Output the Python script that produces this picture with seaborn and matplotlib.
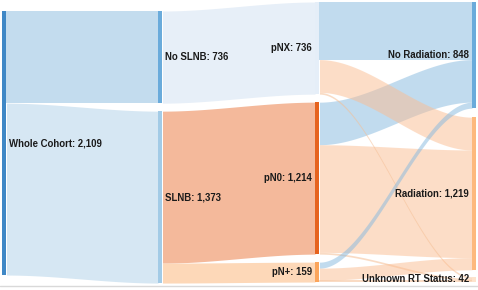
import numpy as np
import matplotlib
matplotlib.use("Agg")
import matplotlib.pyplot as plt
import seaborn as sns

# ---------------- data ----------------
stage_nodes = [
    ["Whole Cohort"],
    ["No SLNB", "SLNB"],
    ["pNX", "pN0", "pN+"],
    ["No Radiation", "Radiation", "Unknown RT Status"],
]
node_values = {
    "Whole Cohort": 2109,
    "No SLNB": 736, "SLNB": 1373,
    "pNX": 736, "pN0": 1214, "pN+": 159,
    "No Radiation": 848, "Radiation": 1219, "Unknown RT Status": 42,
}
flow_source = ["Whole Cohort", "Whole Cohort", "No SLNB", "SLNB", "SLNB",
               "pN0", "pN0", "pN0", "pNX", "pNX", "pNX", "pN+", "pN+", "pN+"]
flow_target = ["No SLNB", "SLNB", "pNX", "pN0", "pN+",
               "No Radiation", "Radiation", "Unknown RT Status",
               "No Radiation", "Radiation", "Unknown RT Status",
               "No Radiation", "Radiation", "Unknown RT Status"]
flow_value = [736, 1373, 736, 1214, 159,
              340, 860, 14,
              460, 262, 14,
              48, 97, 14]

# ---------------- style ----------------
node_color = {
    "Whole Cohort": "#3f88c6",
    "No SLNB": "#6aabdb", "SLNB": "#a3cbe6",
    "pNX": "#e5eef8", "pN0": "#e6631e", "pN+": "#fba55c",
    "No Radiation": "#6aabdb", "Radiation": "#fdb97d", "Unknown RT Status": "#fde3cd",
}
link_color = {
    "No SLNB": ("#c3dcee", 1.0), "SLNB": ("#d6e7f3", 1.0),
    "pNX": ("#e7eff8", 1.0), "pN0": ("#f4b99b", 1.0), "pN+": ("#fdd8b8", 1.0),
    "No Radiation": ("#85b9df", 0.5), "Radiation": ("#fbbd91", 0.5),
    "Unknown RT Status": ("#f5bf95", 0.55),
}
col_x = [2, 158, 315, 472]
col_top = [11, 11, 2, 2]
col_gaps = [[], [8], [8, 8], [9, 7]]
node_w = 4.5
k = 0.1252  # px per unit

sns.set_theme(style="white")
plt.rcParams["font.family"] = ["Liberation Sans", "DejaVu Sans"]

fig = plt.figure(figsize=(4.78, 2.90), dpi=100)
ax = fig.add_axes([0, 0, 1, 1])
ax.set_xlim(0, 478)
ax.set_ylim(290, 0)
ax.axis("off")

# node layout
pos = {}
col_of = {}
for c, names in enumerate(stage_nodes):
    y = col_top[c]
    for i, n in enumerate(names):
        h = node_values[n] * k
        pos[n] = [y, y + h]
        col_of[n] = c
        y += h
        if i < len(col_gaps[c]):
            y += col_gaps[c][i]

order_in_col = {n: i for names in stage_nodes for i, n in enumerate(names)}

# link stacking offsets
out_off = {n: pos[n][0] for n in pos}
in_off = {n: pos[n][0] for n in pos}
idx = list(range(len(flow_value)))
src_sorted = sorted(idx, key=lambda i: (order_in_col[flow_source[i]], order_in_col[flow_target[i]]))
tgt_sorted = sorted(idx, key=lambda i: (order_in_col[flow_target[i]], order_in_col[flow_source[i]]))
src_y, tgt_y = {}, {}
for i in src_sorted:
    s = flow_source[i]
    h = flow_value[i] * k
    src_y[i] = (out_off[s], out_off[s] + h)
    out_off[s] += h
for i in tgt_sorted:
    t = flow_target[i]
    h = flow_value[i] * k
    tgt_y[i] = (in_off[t], in_off[t] + h)
    in_off[t] += h

for i in idx:
    s, t = flow_source[i], flow_target[i]
    x0 = col_x[col_of[s]] + node_w
    x1 = col_x[col_of[t]]
    xs = np.linspace(x0, x1, 200)
    u = (xs - x0) / (x1 - x0)
    sm = 3 * u**2 - 2 * u**3
    top = src_y[i][0] + (tgt_y[i][0] - src_y[i][0]) * sm
    bot = src_y[i][1] + (tgt_y[i][1] - src_y[i][1]) * sm
    col, a = link_color[t]
    ax.fill_between(xs, top, bot, color=col, alpha=a, lw=0)

# nodes and labels
for n, (y0, y1) in pos.items():
    c = col_of[n]
    ax.fill_between([col_x[c], col_x[c] + node_w], y0, y1, color=node_color[n], lw=0)
    label = f"{n}: {node_values[n]:,}"
    yc = (y0 + y1) / 2
    if c < 2:
        ax.text(col_x[c] + node_w + 2.5, yc, label, ha="left", va="center",
                fontsize=6.9, fontweight="bold", color="#1a1a1a")
    else:
        ax.text(col_x[c] - 3, yc, label, ha="right", va="center",
                fontsize=6.9, fontweight="bold", color="#1a1a1a")

ax.plot([0, 478], [285.5, 285.5], color="#d9d9d9", lw=1)

fig.savefig("out.png", dpi=100)
